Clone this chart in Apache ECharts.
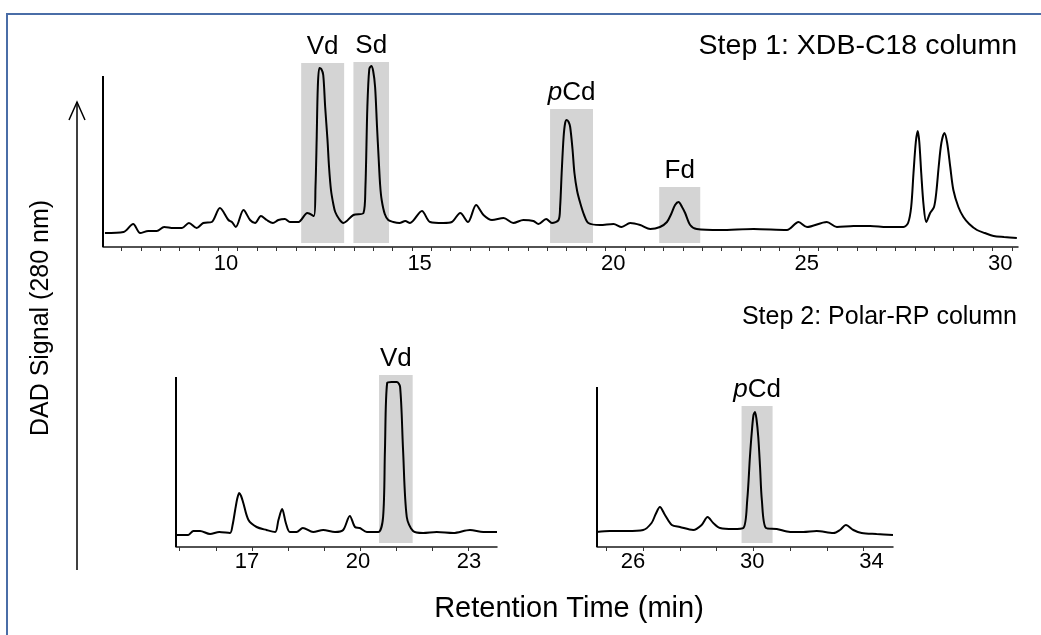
<!DOCTYPE html>
<html>
<head>
<meta charset="utf-8">
<script src="https://cdn.jsdelivr.net/npm/echarts@6/dist/echarts.min.js"></script>
<style>
  html, body { margin: 0; padding: 0; background: #fff; }
  #chart { width: 1041px; height: 635px; }
</style>
</head>
<body>
<div id="chart"></div>
<script>
// Step 1: XDB-C18 column (retention time in min, DAD signal in arbitrary units)
var step1Time = [6.87, 7.35, 7.60, 7.78, 7.99, 8.21, 8.40, 8.64, 8.86, 9.04, 9.24, 9.41, 9.63, 9.84, 10.06, 10.15, 10.25, 10.45, 10.62, 10.75, 10.90, 11.05, 11.21, 11.35, 11.52, 11.65, 11.87, 12.10,
  12.27, 12.31, 12.34, 12.37, 12.41, 12.46, 12.51, 12.56, 12.62, 12.66, 12.71, 12.77, 12.82, 12.92, 13.03,
  13.29, 13.55, 13.60, 13.65, 13.70, 13.75, 13.80, 13.85, 13.90, 13.94, 13.98, 14.02, 14.10, 14.19,
  14.32, 14.48, 14.63, 14.75, 15.06, 15.27, 15.61, 15.83, 16.05, 16.25, 16.46, 16.65, 16.87, 17.17, 17.42, 17.68, 17.94, 18.07, 18.27, 18.42,
  18.59, 18.63, 18.67, 18.72, 18.76, 18.80, 18.85, 18.89, 18.95, 19.00, 19.07, 19.15, 19.25, 19.36,
  19.66, 20.01, 20.22, 20.44, 20.70, 20.96, 21.21,
  21.39, 21.50, 21.60, 21.69, 21.78, 21.86, 21.99, 22.16,
  22.77, 23.63, 24.49, 24.79, 25.01, 25.52, 25.78, 26.21, 26.64, 27.07, 27.50,
  27.62, 27.70, 27.76, 27.82, 27.87, 27.91, 27.96, 28.02, 28.09, 28.19, 28.29, 28.35, 28.41, 28.48, 28.56, 28.63, 28.71, 28.79, 28.92,
  29.05, 29.20, 29.40, 29.60, 29.83, 30.10, 30.43];
var step1Signal = [14, 15, 23, 14, 16, 16, 20, 19, 19, 24, 19, 24, 25, 39, 27, 25, 20, 37, 27, 24, 31, 27, 24, 27, 28, 25, 25, 34,
  31, 60, 107, 160, 179, 178, 172, 140, 107, 80, 57, 43, 35, 28, 24,
  32, 34, 60, 140, 178, 181, 176, 160, 120, 90, 62, 47, 33, 27,
  25, 24, 26, 24, 36, 25, 24, 25, 34, 25, 42, 32, 27, 29, 24, 27, 26, 23, 28, 24,
  27, 40, 74, 110, 124, 127, 125, 120, 98, 74, 56, 44, 32, 24,
  22, 23, 20, 24, 22, 18, 20,
  25, 33, 42, 45, 40, 34, 22, 18,
  17, 18, 17, 25, 20, 25, 20, 21, 21, 20, 20,
  24, 40, 74, 105, 116, 105, 74, 42, 25, 34, 40, 55, 80, 104, 114, 104, 80, 57, 40,
  30, 23, 17, 14, 11, 10, 9];
var step1Labels = [10, 15, 20, 25, 30];
var step1Peaks = ['Vd', 'Sd', 'pCd', 'Fd'];
var step1PeakStart = [11.94, 13.29, 18.37, 21.19];
var step1PeakEnd = [13.05, 14.21, 19.48, 22.25];
var step1PeakTop = [184, 185, 138, 60];

// Step 2: Polar-RP column, Vd fraction
var step2aTime = [15.10, 15.41, 15.55, 15.73, 16.00, 16.25, 16.54, 16.61, 16.68, 16.74, 16.79, 16.84, 16.90, 17.04, 17.26, 17.53, 17.76, 17.85, 17.95, 18.05, 18.16, 18.34, 18.51, 18.79, 19.06, 19.38, 19.60, 19.78, 19.92, 20.05, 20.24, 20.55, 20.68, 20.73, 20.79, 20.91, 21.05, 21.14, 21.22, 21.32, 21.49, 21.76, 22.13, 22.58, 23.03, 23.39, 23.76];
var step2aSignal = [12, 12, 16, 16, 13, 15, 14, 22, 37, 49, 54, 51, 44, 27, 20, 17, 15, 27, 38, 24, 15, 15, 19, 15, 17, 15, 17, 31, 20, 19, 15, 15, 30, 97, 164, 165, 165, 160, 97, 30, 16, 14, 15, 14, 17, 15, 15];
var step2aLabels = [17, 20, 23];
var step2aPeaks = ['Vd'];
var step2aPeakStart = [20.57];
var step2aPeakEnd = [21.48];
var step2aPeakTop = [172];

// Step 2: Polar-RP column, pCd fraction
var step2bTime = [24.78, 25.22, 25.79, 26.34, 26.62, 26.76, 26.90, 27.07, 27.30, 27.57, 28.02, 28.30, 28.50, 28.69, 28.92, 29.36, 29.70, 29.83, 29.92, 29.98, 30.04, 30.09, 30.14, 30.20, 30.26, 30.32, 30.46, 30.82, 31.27, 31.71, 32.16, 32.72, 32.94, 33.14, 33.39, 33.67, 34.17, 34.72];
var step2bSignal = [15, 16, 16, 17, 24, 33, 40, 32, 22, 20, 17, 22, 30, 24, 19, 18, 19, 47, 90, 114, 132, 135, 128, 110, 80, 47, 19, 18, 15, 15, 16, 14, 17, 22, 17, 14, 13, 12];
var step2bLabels = [26, 30, 34];
var step2bPeaks = ['pCd'];
var step2bPeakStart = [29.64];
var step2bPeakEnd = [30.68];
var step2bPeakTop = [141];

var SANS = '"Liberation Sans", Arial, sans-serif';

function pairs(xs, ys) {
  return xs.map(function (x, i) { return [x, ys[i]]; });
}

function boxes(names, starts, ends, tops) {
  return names.map(function (n, i) {
    return [{ name: n, xAxis: starts[i], yAxis: 4 }, { xAxis: ends[i], yAxis: tops[i] }];
  });
}

function ticks(from, step, to) {
  var out = [];
  for (var v = from; v <= to + 1e-6; v += step) out.push(Math.round(v * 1000) / 1000);
  return out;
}

function xAxisFor(idx, min, max, labels, tickVals, margin) {
  return {
    type: 'value', gridIndex: idx, min: min, max: max,
    axisLine: { show: true, lineStyle: { color: '#1a1a1a', width: 1.5 } },
    axisTick: { show: true, customValues: tickVals, length: 4, lineStyle: { color: '#333', width: 1 } },
    axisLabel: { customValues: labels, color: '#000', fontSize: 22, fontFamily: SANS, margin: margin },
    splitLine: { show: false }
  };
}

function yAxisFor(idx, max) {
  return {
    type: 'value', gridIndex: idx, min: 0, max: max,
    axisLine: { show: false },
    axisTick: { show: false }, axisLabel: { show: false }, splitLine: { show: false }
  };
}

function trace(idx, data) {
  return {
    type: 'line', xAxisIndex: idx, yAxisIndex: idx, data: data,
    showSymbol: false, smooth: 0.3, clip: false, z: 3,
    lineStyle: { color: '#000', width: 2 }
  };
}

// grey peak windows plus the signal axis line (drawn from 0 up to axisTop)
function peakBoxes(idx, areas, xMin, axisTop) {
  return {
    type: 'line', xAxisIndex: idx, yAxisIndex: idx, data: [], z: 1, silent: true, clip: false,
    markArea: {
      silent: true,
      itemStyle: { color: '#d4d4d4' },
      label: {
        show: true, position: 'top', distance: 3, color: '#000',
        fontSize: 26, fontFamily: SANS,
        formatter: function (p) { return p.name === 'pCd' ? '{i|p}Cd' : p.name; },
        rich: { i: { fontStyle: 'italic', fontSize: 26, fontFamily: SANS, color: '#000' } }
      },
      data: areas
    },
    markLine: {
      silent: true, symbol: 'none', animation: false,
      label: { show: false },
      lineStyle: { color: '#000', width: 2, type: 'solid' },
      data: [[{ coord: [xMin, 0] }, { coord: [xMin, axisTop] }]]
    }
  };
}

var chart = echarts.init(document.getElementById('chart'));

var option = {
  backgroundColor: '#fff',
  animation: false,
  grid: [
    { left: 103, top: 60, width: 915, height: 187 },
    { left: 176, top: 370, width: 321, height: 177 },
    { left: 597, top: 387, width: 296, height: 160 }
  ],
  xAxis: [
    xAxisFor(0, 6.82, 30.46, step1Labels, ticks(7.3, 0.5, 30.3), 6),
    xAxisFor(1, 15.08, 23.76, step2aLabels, ticks(15.18, 0.975, 23.0), 4),
    xAxisFor(2, 24.79, 34.72, step2bLabels, ticks(25.11, 1.232, 34.7), 4)
  ],
  yAxis: [yAxisFor(0, 187), yAxisFor(1, 177), yAxisFor(2, 160)],
  series: [
    peakBoxes(0, boxes(step1Peaks, step1PeakStart, step1PeakEnd, step1PeakTop), 6.82, 171),
    peakBoxes(1, boxes(step2aPeaks, step2aPeakStart, step2aPeakEnd, step2aPeakTop), 15.08, 170),
    peakBoxes(2, boxes(step2bPeaks, step2bPeakStart, step2bPeakEnd, step2bPeakTop), 24.79, 160),
    trace(0, pairs(step1Time, step1Signal)),
    trace(1, pairs(step2aTime, step2aSignal)),
    trace(2, pairs(step2bTime, step2bSignal))
  ],
  graphic: [
    { type: 'rect', shape: { x: 7, y: 14, width: 1100, height: 700 },
      style: { fill: null, stroke: '#4a6da7', lineWidth: 2 }, silent: true },
    { type: 'line', shape: { x1: 77, y1: 570, x2: 77, y2: 102 },
      style: { stroke: '#000', lineWidth: 1.5 } },
    { type: 'polyline', shape: { points: [[69, 120], [77, 102], [85, 120]] },
      style: { stroke: '#000', lineWidth: 1.5, fill: null } },
    { type: 'text', x: 41, y: 318, rotation: Math.PI / 2,
      style: { text: 'DAD Signal (280 nm)', fill: '#000', font: '25px ' + SANS, align: 'center', verticalAlign: 'middle' } },
    { type: 'text', x: 1017, y: 46,
      style: { text: 'Step 1: XDB-C18 column', fill: '#000', font: '28.5px ' + SANS, align: 'right', verticalAlign: 'middle' } },
    { type: 'text', x: 1017, y: 317,
      style: { text: 'Step 2: Polar-RP column', fill: '#000', font: '25px ' + SANS, align: 'right', verticalAlign: 'middle' } },
    { type: 'text', x: 569, y: 609,
      style: { text: 'Retention Time (min)', fill: '#000', font: '29px ' + SANS, align: 'center', verticalAlign: 'middle' } }
  ]
};

option && chart.setOption(option);
</script>
</body>
</html>
